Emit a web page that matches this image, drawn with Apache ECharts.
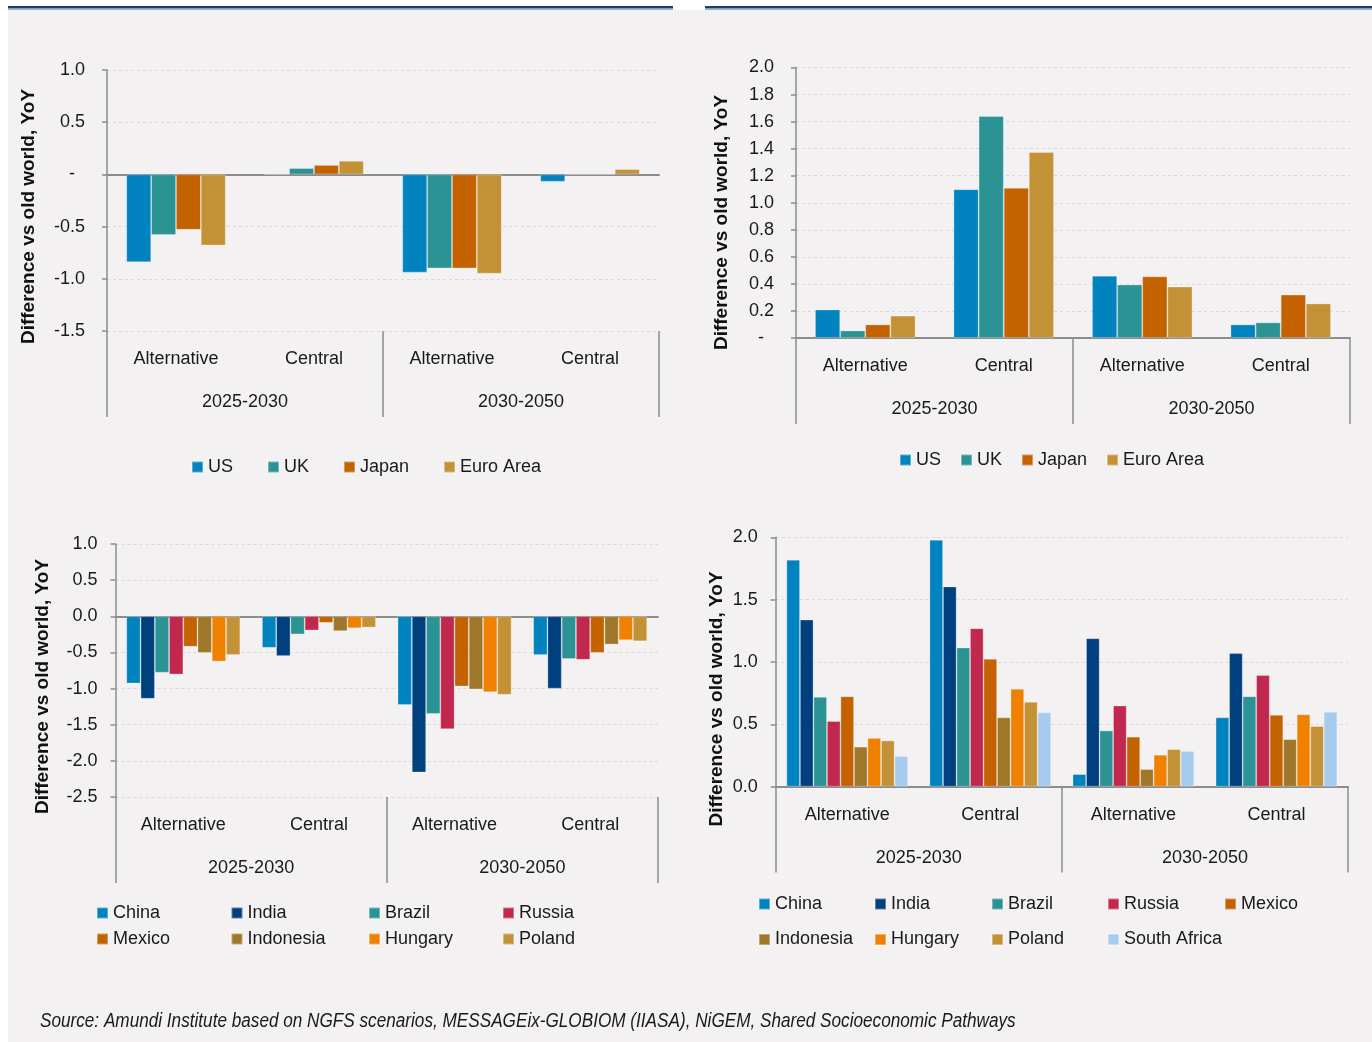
<!DOCTYPE html>
<html>
<head>
<meta charset="utf-8">
<script src="https://cdn.jsdelivr.net/npm/echarts@6/dist/echarts.min.js"></script>
<style>
html,body{margin:0;padding:0;background:#fff;}
#c{width:1372px;height:1042px;}
</style>
</head>
<body>
<div id="c"></div>
<script>
// ---------- DATA ----------
const categories = ['Alternative', 'Central', 'Alternative', 'Central'];
const periods = ['2025-2030', '2030-2050'];
const advNames = ['US', 'UK', 'Japan', 'Euro Area'];
const emNamesA = ['China', 'India', 'Brazil', 'Russia', 'Mexico', 'Indonesia', 'Hungary', 'Poland'];
const emNamesB = ['China', 'India', 'Brazil', 'Russia', 'Mexico', 'Indonesia', 'Hungary', 'Poland', 'South Africa'];

// Top-left panel
const tlUS    = [-0.84, 0.00, -0.94, -0.07];
const tlUK    = [-0.58, 0.06, -0.90, 0.00];
const tlJapan = [-0.53, 0.09, -0.90, 0.00];
const tlEuro  = [-0.68, 0.13, -0.95, 0.05];

// Top-right panel
const trUS    = [0.21, 1.10, 0.46, 0.10];
const trUK    = [0.055, 1.64, 0.395, 0.115];
const trJapan = [0.10, 1.11, 0.455, 0.32];
const trEuro  = [0.165, 1.375, 0.38, 0.255];

// Bottom-left panel
const blChina     = [-0.93, -0.435, -1.225, -0.535];
const blIndia     = [-1.14, -0.55, -2.16, -1.00];
const blBrazil    = [-0.78, -0.25, -1.35, -0.59];
const blRussia    = [-0.805, -0.195, -1.56, -0.60];
const blMexico    = [-0.42, -0.09, -0.97, -0.505];
const blIndonesia = [-0.505, -0.205, -1.01, -0.39];
const blHungary   = [-0.625, -0.165, -1.05, -0.33];
const blPoland    = [-0.535, -0.155, -1.085, -0.345];

// Bottom-right panel
const brChina     = [1.82, 1.98, 0.10, 0.555];
const brIndia     = [1.34, 1.605, 1.19, 1.07];
const brBrazil    = [0.72, 1.115, 0.45, 0.725];
const brRussia    = [0.525, 1.27, 0.65, 0.895];
const brMexico    = [0.725, 1.025, 0.40, 0.575];
const brIndonesia = [0.32, 0.555, 0.14, 0.38];
const brHungary   = [0.39, 0.785, 0.255, 0.58];
const brPoland    = [0.37, 0.68, 0.30, 0.485];
const brSAfrica   = [0.245, 0.595, 0.285, 0.60];

// Tick labels (from min to max)
const tlTicks = ['-1.5', '-1.0', '-0.5', '-  ', '0.5', '1.0'];
const trTicks = ['-  ', '0.2', '0.4', '0.6', '0.8', '1.0', '1.2', '1.4', '1.6', '1.8', '2.0'];
const blTicks = ['-2.5', '-2.0', '-1.5', '-1.0', '-0.5', '0.0', '0.5', '1.0'];
const brTicks = ['0.0', '0.5', '1.0', '1.5', '2.0'];

const yAxisTitle = 'Difference vs old world, YoY';
const sourceText = 'Source: Amundi Institute based on NGFS scenarios, MESSAGEix-GLOBIOM (IIASA), NiGEM, Shared Socioeconomic Pathways';

// ---------- STYLE ----------
const FONT = '"Liberation Sans", Arial, sans-serif';
const FS = 18;
const TXT = '#1a1a1a';
const colors = {
  'US': '#0083BE', 'UK': '#2C9395', 'Japan': '#C46200', 'Euro Area': '#C39237',
  'China': '#0083BE', 'India': '#00407F', 'Brazil': '#2C9395', 'Russia': '#C0284E',
  'Mexico': '#C46200', 'Indonesia': '#9E772A', 'Hungary': '#F08000', 'Poland': '#C39237',
  'South Africa': '#A6CBEE'
};

const panels = [
  { grid: {left: 107, top: 70, width: 552, height: 261}, min: -1.5, max: 1.0, interval: 0.5, ticks: tlTicks, yMargin: 22,
    names: advNames, data: [tlUS, tlUK, tlJapan, tlEuro], gap: '28%' },
  { grid: {left: 796, top: 67.5, width: 554, height: 270.5}, min: 0, max: 2.0, interval: 0.2, ticks: trTicks, yMargin: 22,
    names: advNames, data: [trUS, trUK, trJapan, trEuro], gap: '27.5%' },
  { grid: {left: 115.5, top: 544, width: 542.5, height: 253}, min: -2.5, max: 1.0, interval: 0.5, ticks: blTicks, yMargin: 18,
    names: emNamesA, data: [blChina, blIndia, blBrazil, blRussia, blMexico, blIndonesia, blHungary, blPoland], gap: '16%' },
  { grid: {left: 775.7, top: 537.3, width: 572.3, height: 249.3}, min: 0, max: 2.0, interval: 0.5, ticks: brTicks, yMargin: 18,
    names: emNamesB, data: [brChina, brIndia, brBrazil, brRussia, brMexico, brIndonesia, brHungary, brPoland, brSAfrica], gap: '15%' }
];

const grids = [], xAxes = [], yAxes = [], series = [];
panels.forEach((p, gi) => {
  grids.push(Object.assign({containLabel: false}, p.grid));
  const ticks = p.ticks;
  yAxes.push({
    type: 'value', gridIndex: gi, min: p.min, max: p.max, interval: p.interval,
    axisLine: {show: true, lineStyle: {color: '#8c8c8c', width: 1.5}},
    axisTick: {show: true, length: 5, lineStyle: {color: '#8c8c8c', width: 1.5}},
    splitLine: {show: true, lineStyle: {color: '#d9d9d9', width: 1, type: [3, 3]}},
    axisLabel: {margin: p.yMargin, fontFamily: FONT, fontSize: FS, color: TXT,
      formatter: (v, i) => ticks[i]}
  });
  const base = xAxes.length;
  // zero line axis (series bound here)
  xAxes.push({
    type: 'category', gridIndex: gi, data: categories,
    axisLine: {show: true, onZero: true, lineStyle: {color: '#8c8c8c', width: 2}},
    axisTick: {show: false}, axisLabel: {show: false}, splitLine: {show: false}
  });
  // category labels
  xAxes.push({
    type: 'category', gridIndex: gi, data: categories, position: 'bottom',
    axisLine: {show: false, onZero: false}, axisTick: {show: false}, splitLine: {show: false},
    axisLabel: {interval: 0, margin: 19, fontFamily: FONT, fontSize: FS, color: TXT}
  });
  // period labels + separators
  xAxes.push({
    type: 'category', gridIndex: gi, data: periods, position: 'bottom',
    axisLine: {show: false, onZero: false},
    axisTick: {show: true, interval: 0, length: 86, lineStyle: {color: '#8c8c8c', width: 1.5}},
    splitLine: {show: false},
    axisLabel: {interval: 0, margin: 62, fontFamily: FONT, fontSize: FS, color: TXT}
  });
  p.names.forEach((n, si) => {
    series.push({
      type: 'bar', name: n, xAxisIndex: base, yAxisIndex: gi, data: p.data[si],
      barGap: 0, barCategoryGap: p.gap,
      itemStyle: {color: colors[n], borderColor: 'rgba(255,255,255,0.35)', borderWidth: 0.8},
      emphasis: {disabled: true}, animation: false
    });
  });
});

// legends
const legends = [];
const legText = {fontFamily: FONT, fontSize: FS, color: TXT};
legends.push({data: advNames, left: 191, top: 458, padding: 0, itemGap: 34, itemWidth: 11, itemHeight: 11,
  icon: 'rect', selectedMode: false, textStyle: legText});
legends.push({data: advNames, left: 899, top: 451, padding: 0, itemGap: 19, itemWidth: 11, itemHeight: 11,
  icon: 'rect', selectedMode: false, textStyle: legText});
const blCols = [96, 230.5, 368, 502], blRows = [913, 939];
emNamesA.forEach((n, i) => {
  legends.push({data: [n], left: blCols[i % 4], top: blRows[Math.floor(i / 4)] - 9, padding: 0, itemWidth: 11, itemHeight: 11,
    icon: 'rect', selectedMode: false, textStyle: legText});
});
const brCols = [758, 874, 991, 1107, 1224], brRows = [904, 939.5];
emNamesB.forEach((n, i) => {
  legends.push({data: [n], left: brCols[i % 5], top: brRows[Math.floor(i / 5)] - 9, padding: 0, itemWidth: 11, itemHeight: 11,
    icon: 'rect', selectedMode: false, textStyle: legText});
});

// y-axis titles
const titlePos = [[28.5, 216.5], [721.5, 222.5], [43, 686.5], [717, 699]];
const graphics = [
  {type: 'rect', z: -10, shape: {x: 8, y: 10, width: 1364, height: 1032}, style: {fill: '#F3F1F2'}, silent: true},
  {type: 'rect', shape: {x: 8, y: 6, width: 665, height: 2.5}, style: {fill: '#1B3F66'}, silent: true},
  {type: 'rect', shape: {x: 8, y: 8.5, width: 665, height: 1.2}, style: {fill: '#7D97B3'}, silent: true},
  {type: 'rect', shape: {x: 705, y: 6, width: 667, height: 2.5}, style: {fill: '#1B3F66'}, silent: true},
  {type: 'rect', shape: {x: 705, y: 8.5, width: 667, height: 1.2}, style: {fill: '#7D97B3'}, silent: true},
  {type: 'text', x: 40, y: 1021, scaleX: 0.858, silent: true,
    style: {text: sourceText, font: 'italic 20px "Liberation Sans", Arial, sans-serif', fill: TXT,
      align: 'left', verticalAlign: 'middle', textAlign: 'left', textVerticalAlign: 'middle'}}
];
titlePos.forEach(([x, y]) => {
  graphics.push({type: 'text', x: x, y: y, rotation: Math.PI / 2, silent: true,
    style: {text: yAxisTitle, font: 'bold 19px "Liberation Sans", Arial, sans-serif', fill: '#111',
      align: 'center', verticalAlign: 'middle', textAlign: 'center', textVerticalAlign: 'middle'}});
});

const chart = echarts.init(document.getElementById('c'), null, {renderer: 'canvas'});
chart.setOption({
  animation: false,
  backgroundColor: '#ffffff',
  grid: grids, xAxis: xAxes, yAxis: yAxes, series: series,
  legend: legends, graphic: graphics
});
</script>
</body>
</html>
